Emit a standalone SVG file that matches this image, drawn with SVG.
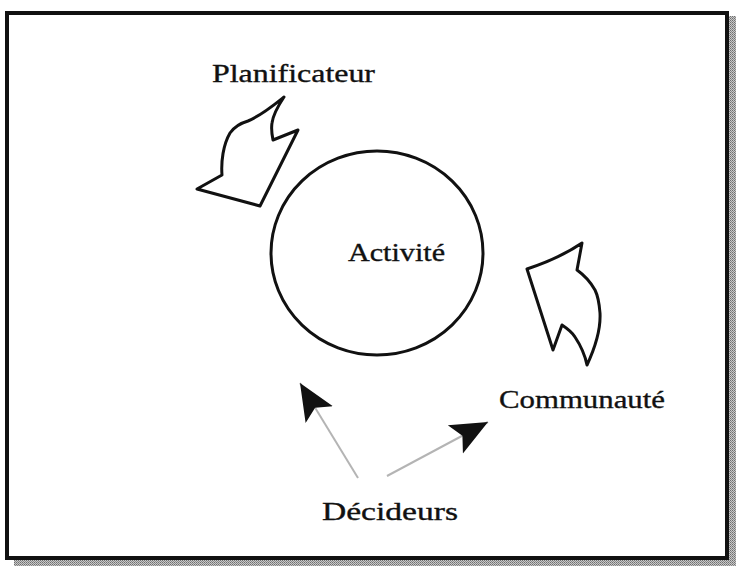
<svg xmlns="http://www.w3.org/2000/svg" width="736" height="566" viewBox="0 0 736 566">
  <style>
    .label { font-family: "Liberation Serif", "Times New Roman", serif; font-size: 25px; fill: #111; stroke: #111; stroke-width: 0.35; }
    .outline { fill: #fff; stroke: #111; stroke-width: 3; stroke-linejoin: round; }
    .link { stroke: #b4b4b4; stroke-width: 2; fill: none; }
  </style>
  <defs>
    <pattern id="dither" width="2" height="2" patternUnits="userSpaceOnUse">
      <rect width="2" height="2" fill="#c8c8c8"/>
      <rect width="1" height="1" fill="#6e6e6e"/>
      <rect x="1" y="1" width="1" height="1" fill="#8a8a8a"/>
    </pattern>
    <marker id="head" markerUnits="userSpaceOnUse" markerWidth="42" markerHeight="36" viewBox="0 -18 42 36" refX="37" refY="0" orient="auto">
      <path d="M37,0 L0,-16 L8,0 L0,16 Z" fill="#111"/>
    </marker>
  </defs>

  <!-- page background, drop shadow and frame -->
  <rect width="736" height="566" fill="#fff"/>
  <rect x="729" y="16" width="7" height="550" fill="url(#dither)"/>
  <rect x="14" y="560" width="722" height="6" fill="url(#dither)"/>
  <rect x="7" y="13" width="720" height="545" fill="#fff" stroke="#111" stroke-width="4"/>

  <g id="activite">
    <ellipse cx="377" cy="253" rx="106" ry="102" fill="none" stroke="#111" stroke-width="3"/>
    <text class="label" x="348" y="261" textLength="97" lengthAdjust="spacingAndGlyphs">Activité</text>
  </g>

  <g id="planificateur">
    <text class="label" x="212" y="82" textLength="163" lengthAdjust="spacingAndGlyphs">Planificateur</text>
    <path class="outline" d="M284,97 C278,106 273,115 272,123 C271,129 272,135 273,140 L298,130 L260,206 L197,189 L222,175 C221,162 223,145 230,133 C235,126 241,123 248,121 C262,115 274,105 284,97 Z"/>
  </g>

  <g id="communaute">
    <text class="label" x="499" y="408" textLength="166" lengthAdjust="spacingAndGlyphs">Communauté</text>
    <path class="outline" d="M582,243 C563,256 545,263 527,269 L553,350 L562,325 C568,329 572,332 575,337 C581,346 585,355 587,365 C594,350 601,332 600,313 C599,300 597,294 595,290 C590,281 584,275 577,270 Z"/>
  </g>

  <g id="decideurs">
    <text class="label" x="322" y="520" textLength="136" lengthAdjust="spacingAndGlyphs">Décideurs</text>
  </g>

  <g id="connectors">
    <line class="link" x1="358" y1="478" x2="300" y2="383" marker-end="url(#head)"/>
    <line class="link" x1="387" y1="476" x2="488" y2="422" marker-end="url(#head)"/>
  </g>
</svg>
